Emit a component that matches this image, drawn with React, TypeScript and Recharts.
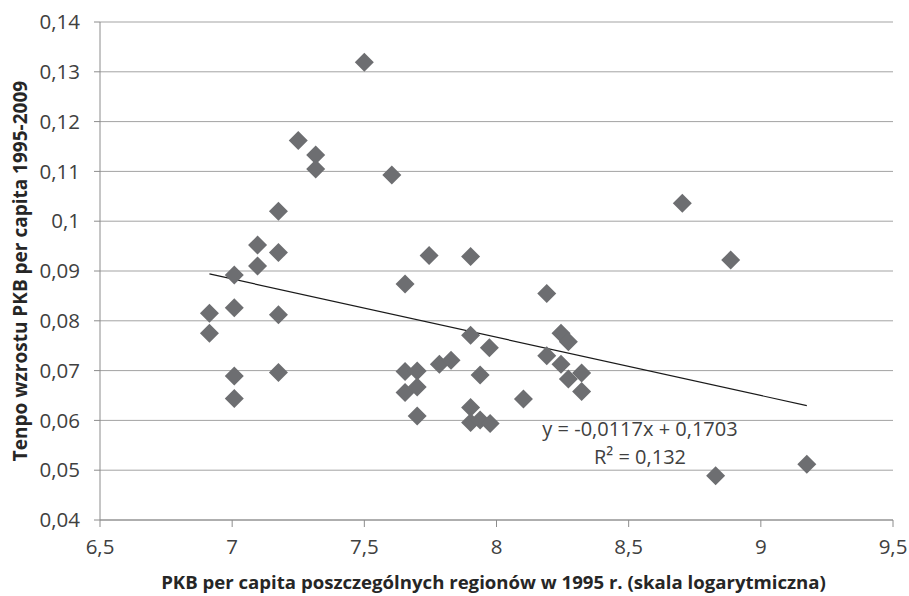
import React from "react";
import {
  ScatterChart,
  Scatter,
  XAxis,
  YAxis,
  CartesianGrid,
  ReferenceLine,
} from "recharts";

const xValues = [
  6.914, 6.914, 7.008, 7.008, 7.008, 7.008, 7.096, 7.096, 7.175, 7.175, 7.175, 7.175,
  7.25, 7.316, 7.316, 7.5, 7.604, 7.654, 7.654, 7.654, 7.7, 7.7, 7.7, 7.745, 7.784,
  7.828, 7.902, 7.902, 7.902, 7.902, 7.938, 7.938, 7.973, 7.976, 8.102, 8.19, 8.19,
  8.244, 8.244, 8.272, 8.272, 8.322, 8.322, 8.703, 8.829, 8.886, 9.174,
];
const yValues = [
  0.0815, 0.0775, 0.0892, 0.0826, 0.0689, 0.0644, 0.0952, 0.091, 0.102, 0.0937, 0.0812,
  0.0696, 0.1162, 0.1133, 0.1105, 0.1319, 0.1093, 0.0874, 0.0698, 0.0656, 0.0699, 0.0667,
  0.0609, 0.0931, 0.0713, 0.0721, 0.0929, 0.0771, 0.0626, 0.0596, 0.0691, 0.0601, 0.0746,
  0.0594, 0.0643, 0.0855, 0.073, 0.0775, 0.0713, 0.0758, 0.0683, 0.0695, 0.0658, 0.1036,
  0.0489, 0.0922, 0.0512,
];
const xTicks = [6.5, 7, 7.5, 8, 8.5, 9, 9.5];
const yTicks = [0.04, 0.05, 0.06, 0.07, 0.08, 0.09, 0.1, 0.11, 0.12, 0.13, 0.14];
const slope = -0.0117;
const intercept = 0.1703;
const equationText = "y = -0,0117x + 0,1703";
const r2Text = "R² = 0,132";
const xTitle = "PKB per capita poszczególnych regionów w 1995 r. (skala logarytmiczna)";
const yTitle = "Tenpo wzrostu PKB per capita 1995-2009";

const points = xValues.map((x, i) => ({ x, y: yValues[i] }));
const xMin = Math.min(...xValues);
const xMax = Math.max(...xValues);
const trend = [
  { x: xMin, y: slope * xMin + intercept },
  { x: xMax, y: slope * xMax + intercept },
];

const FONT = "'Open Sans', sans-serif";
const fmt = (v: number) => String(v).replace(".", ",");

const Diamond = (props: any) => {
  const { cx, cy } = props;
  if (cx == null || cy == null) return null;
  const r = 9.5;
  return (
    <path
      d={`M${cx},${cy - r}L${cx + r},${cy}L${cx},${cy + r}L${cx - r},${cy}Z`}
      fill="#6d6e71"
    />
  );
};

export default function App() {
  return (
    <div style={{ position: "absolute", left: 0, top: 0, width: 909, height: 596, background: "#fff" }}>
      <ScatterChart
        width={909}
        height={596}
        margin={{ top: 22, right: 16, bottom: 0, left: 0 }}
      >
        <CartesianGrid vertical={false} stroke="#a3a3a3" strokeWidth={1} />
        <XAxis
          type="number"
          dataKey="x"
          domain={[6.5, 9.5]}
          ticks={xTicks}
          tickFormatter={fmt}
          height={76}
          stroke="#8c8c8c"
          tickSize={7}
          tickMargin={12}
          tick={{ fill: "#404040", fontSize: 20.5, fontFamily: FONT }}
          label={{
            content: (p: any) => {
              const vb = p.viewBox;
              return (
                <text
                  x={vb.x + vb.width / 2 - 3}
                  y={589}
                  textAnchor="middle"
                  fontFamily={FONT}
                  fontWeight="bold"
                  fontSize={18.6}
                  fill="#262626"
                >
                  {xTitle}
                </text>
              );
            },
          }}
          allowDataOverflow
        />
        <YAxis
          type="number"
          dataKey="y"
          domain={[0.04, 0.14]}
          ticks={yTicks}
          tickFormatter={fmt}
          width={100}
          stroke="#8c8c8c"
          tickSize={6}
          tickMargin={14}
          tick={{ fill: "#404040", fontSize: 20.5, fontFamily: FONT }}
          label={{
            content: (p: any) => {
              const vb = p.viewBox;
              const cx = 20;
              const cy = vb.y + vb.height / 2;
              return (
                <text
                  x={cx}
                  y={cy}
                  transform={`rotate(-90, ${cx}, ${cy})`}
                  textAnchor="middle"
                  dominantBaseline="central"
                  fontFamily={FONT}
                  fontWeight="bold"
                  fontSize={19}
                  fill="#262626"
                >
                  {yTitle}
                </text>
              );
            },
          }}
          allowDataOverflow
        />
        <ReferenceLine
          segment={trend}
          stroke="#1a1a1a"
          strokeWidth={1.2}
          ifOverflow="visible"
        />
        <Scatter data={points} shape={Diamond} isAnimationActive={false} />
      </ScatterChart>
      <div
        style={{
          position: "absolute",
          left: 520,
          width: 240,
          top: 415,
          textAlign: "center",
          fontFamily: FONT,
          fontSize: 20,
          lineHeight: "28px",
          color: "#404040",
        }}
      >
        <div>{equationText}</div>
        <div>{r2Text}</div>
      </div>
    </div>
  );
}
